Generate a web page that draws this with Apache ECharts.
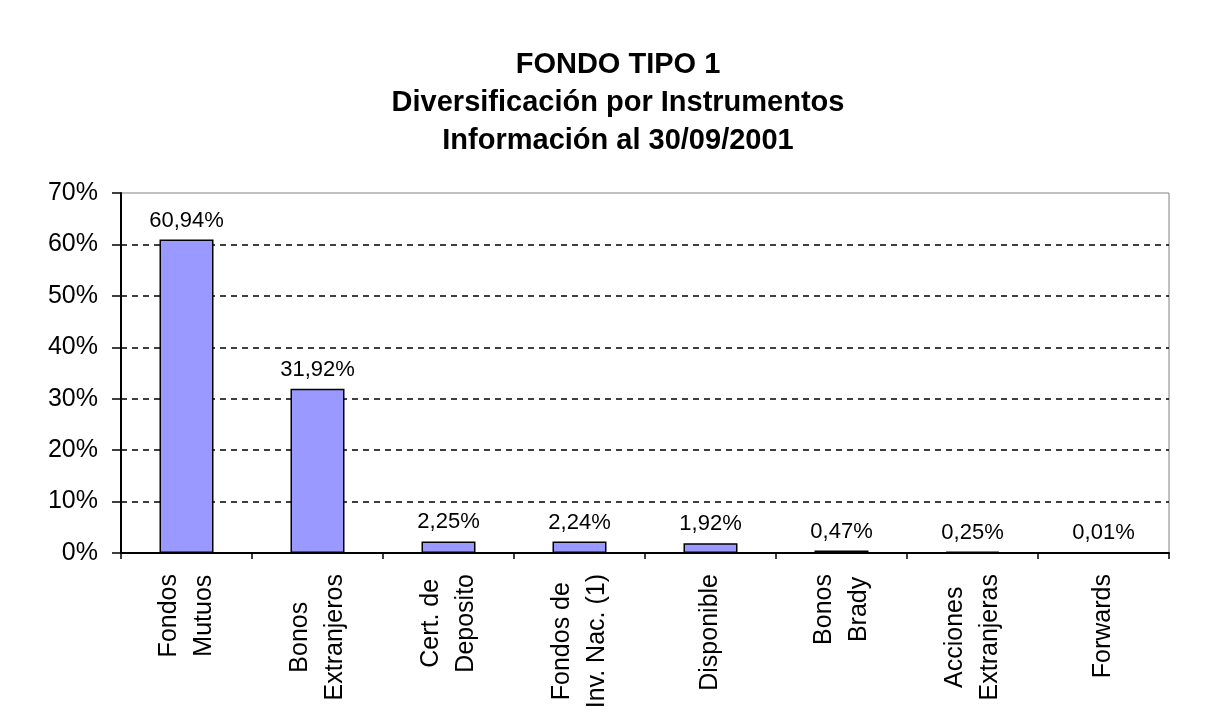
<!DOCTYPE html>
<html>
<head>
<meta charset="utf-8">
<script src="https://cdn.jsdelivr.net/npm/echarts@6/dist/echarts.min.js"></script>
<style>
  html, body { margin: 0; padding: 0; background: #fff; }
  #chart { width: 1206px; height: 723px; }
</style>
</head>
<body>
<div id="chart"></div>
<script>
const titleLines = ["FONDO TIPO 1", "Diversificación por Instrumentos", "Información al 30/09/2001"];
const categories = [
  "Fondos\nMutuos",
  "Bonos\nExtranjeros",
  "Cert. de\nDeposito",
  "Fondos de\nInv. Nac. (1)",
  "Disponible",
  "Bonos\nBrady",
  "Acciones\nExtranjeras",
  "Forwards"
];
const shares = [60.94, 31.92, 2.25, 2.24, 1.92, 0.47, 0.25, 0.01];
const yTicks = { min: 0, max: 70, step: 10 };

const font = "'Liberation Sans', Arial, sans-serif";
const chart = echarts.init(document.getElementById("chart"));

const option = {
  backgroundColor: "#fff",
  animation: false,
  title: {
    text: titleLines.join("\n"),
    // title sits a little right of the page centre in the original
    left: 613,
    textAlign: "center",
    top: 41,
    textStyle: {
      fontFamily: font,
      fontWeight: "bold",
      fontSize: 29,
      lineHeight: 38,
      color: "#000"
    }
  },
  grid: {
    left: 121,
    right: 37,
    top: 193,
    bottom: 170,
    show: true,
    borderColor: "#808080",
    borderWidth: 1
  },
  xAxis: {
    type: "category",
    data: categories,
    axisLine: { lineStyle: { color: "#000", width: 2 } },
    axisTick: { show: true, length: 6, lineStyle: { color: "#000", width: 1.5 } },
    axisLabel: {
      interval: 0,
      rotate: 90,
      margin: 21,
      formatter: (v) => v.split("\n").map((s) => "{c|" + s + "}").join("\n"),
      rich: {
        c: {
          align: "center",
          fontFamily: font,
          fontSize: 25,
          lineHeight: 35,
          color: "#000"
        }
      }
    }
  },
  yAxis: {
    type: "value",
    min: yTicks.min,
    max: yTicks.max,
    interval: yTicks.step,
    axisLine: { show: true, lineStyle: { color: "#000", width: 2 } },
    axisTick: { show: true, length: 9, lineStyle: { color: "#000", width: 1.5 } },
    axisLabel: {
      formatter: "{value}%",
      margin: 23,
      fontFamily: font,
      fontSize: 25,
      color: "#000"
    },
    splitLine: {
      show: true,
      showMinLine: false,
      showMaxLine: false,
      lineStyle: { color: "#000", type: [6, 5], width: 1.5 }
    }
  },
  series: [
    {
      type: "bar",
      data: shares,
      barWidth: 54,
      itemStyle: { color: "#9999FF", borderColor: "#000", borderWidth: 1.5 },
      label: {
        show: true,
        position: "top",
        distance: 8,
        fontFamily: font,
        fontSize: 22,
        color: "#000",
        formatter: (p) => p.value.toFixed(2).replace(".", ",") + "%"
      }
    }
  ]
};

chart.setOption(option);
</script>
</body>
</html>
